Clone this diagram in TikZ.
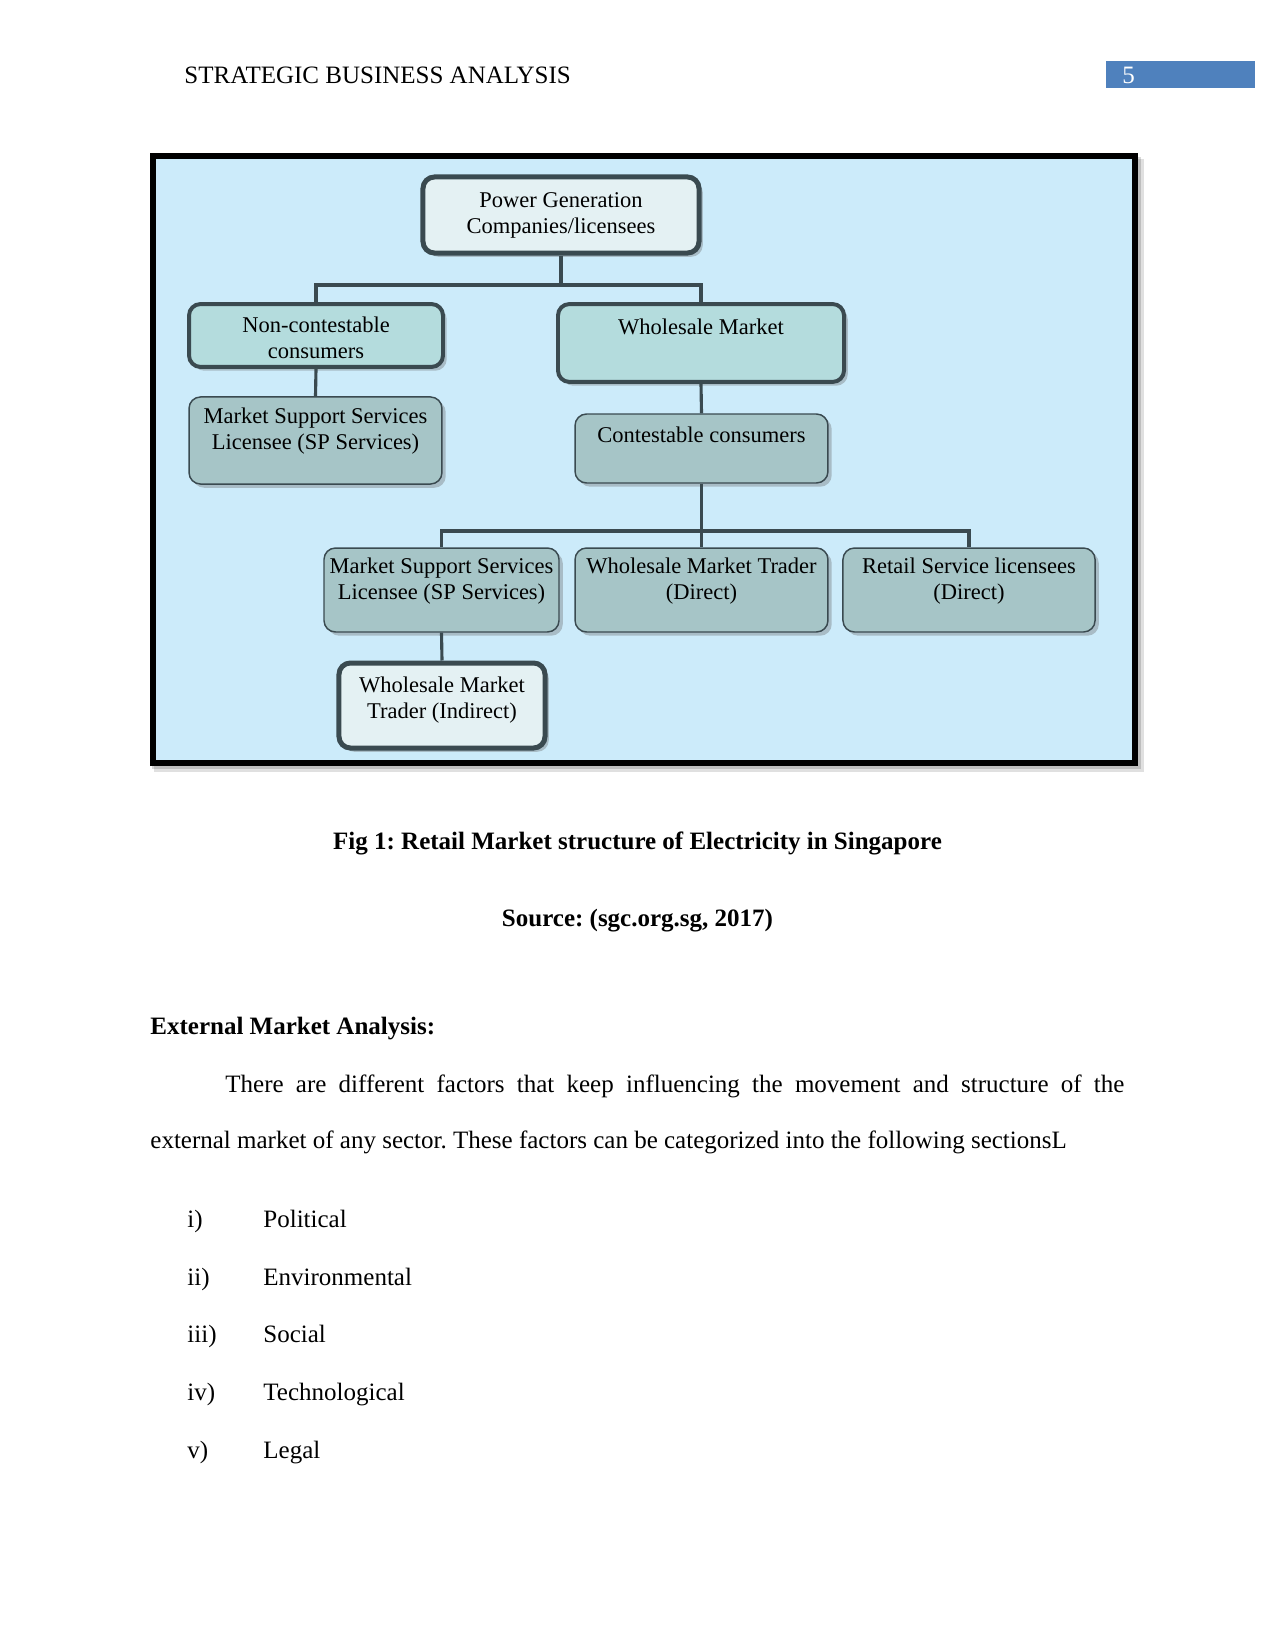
\documentclass[tikz,border=0pt]{standalone}
\usepackage{fontspec}
\setmainfont{Liberation Serif}
\usetikzlibrary{shadows}
\definecolor{bgblue}{RGB}{204,235,250}
\definecolor{lightbox}{RGB}{228,241,243}
\definecolor{tealbox}{RGB}{180,220,221}
\definecolor{graybox}{RGB}{166,197,199}
\definecolor{edgec}{RGB}{58,74,80}
\definecolor{hdrblue}{RGB}{79,129,189}
\frenchspacing
\begin{document}
\begin{tikzpicture}[x=0.48pt,y=-0.48pt,
  box/.style={rounded corners=5.5pt, draw=edgec, inner sep=0pt,
    drop shadow={shadow xshift=1.8pt, shadow yshift=-1.8pt, opacity=0.35, fill=black!60}},
  thickbox/.style={box, line width=2.4pt, fill=lightbox},
  midbox/.style={box, line width=1.9pt, fill=tealbox},
  thinbox/.style={box, line width=0.7pt, fill=graybox},
  lbl/.style={font=\fontsize{10.8}{12.5}\selectfont, align=center, inner sep=0pt},
  conn/.style={draw=edgec, line width=1.5pt},
  body/.style={font=\fontsize{12}{14}\selectfont, inner sep=0pt, anchor=base west},
  bodyc/.style={font=\fontsize{12}{14}\selectfont\bfseries, inner sep=0pt, anchor=base}]
\useasboundingbox[fill=white] (0,0) rectangle (1275,1650);

% header
\node[body] (hdr) at (184,84) {STRATEGIC BUSINESS ANALYSIS};
\fill[hdrblue] (1106,61) rectangle (1255,88);
\node[body, text=white] (pgno) at (1122,84) {5};

% frame
\fill[black, opacity=0.12] (154,159) rectangle (1144,772);
\fill[black, opacity=0.15] (152,157) rectangle (1141,769);
\draw[line width=2.88pt, fill=bgblue] (153,156) rectangle (1135,763);

% boxes
\node[thickbox, minimum width=132.5pt, minimum height=36.5pt] (pg) at (561,215) {};
\node[lbl] (pgt) at (561,215) {Power Generation\\Companies/licensees};

\node[midbox, minimum width=121.9pt, minimum height=30.2pt] (nc) at (316,335.5) {};
\node[lbl] (nct) at (316,338) {Non-contestable\\consumers};

\node[midbox, minimum width=137.3pt, minimum height=37.4pt] (wm) at (701,343) {};
\node[lbl] (wmt0) at (701,327) {Wholesale Market};

\node[thinbox, minimum width=121.4pt, minimum height=41.8pt] (msa) at (315.5,440.5) {};
\node[lbl] (msat) at (315.5,431) {Market Support Services\\Licensee (SP Services)};

\node[thinbox, minimum width=121.4pt, minimum height=33.1pt] (cc) at (701.5,448.5) {};
\node[lbl] (cct) at (701.5,435) {Contestable consumers};

\node[thinbox, minimum width=112.8pt, minimum height=40.3pt] (msb) at (441.5,590) {};
\node[lbl] (msbt) at (441.5,581.5) {Market Support Services\\Licensee (SP Services)};

\node[thinbox, minimum width=121.4pt, minimum height=40.3pt] (wmd) at (701.5,590) {};
\node[lbl] (wmdt) at (701.5,581.5) {Wholesale Market Trader\\(Direct)};

\node[thinbox, minimum width=121pt, minimum height=40.3pt] (rsl) at (969,590) {};
\node[lbl] (rslt) at (969,581.5) {Retail Service licensees\\(Direct)};

\node[thickbox, minimum width=98.9pt, minimum height=40.8pt] (wmi) at (442,705.5) {};
\node[lbl] (wmit) at (442,700.5) {Wholesale Market\\Trader (Indirect)};

% connectors
\coordinate (j1) at (561,285);
\coordinate (j2) at (701.5,531);
\draw[conn] (pg.south) -- (j1);
\draw[conn] (nc.north) |- (j1) -| (wm.north);
\draw[conn] (nc.south) -- (msa.north);
\draw[conn] (wm.south) -- (cc.north);
\draw[conn] (cc.south) -- (j2);
\draw[conn] (msb.north) |- (j2) -| (rsl.north);
\draw[conn] (j2) -- (wmd.north);
\draw[conn] (msb.south) -- (wmi.north);

% text below
\node[bodyc] (cap) at (637.5,849) {Fig 1: Retail Market structure of Electricity in Singapore};
\node[bodyc] (src) at (637.5,926.5) {Source: (sgc.org.sg, 2017)};
\node[body, font=\fontsize{12}{14}\selectfont\bfseries] (ema) at (150,1034) {External Market Analysis:};
\node[body] (p1) at (225,1092) {\makebox[431.5pt][s]{There are different factors that keep influencing the movement and structure of the}};
\node[body] (p2) at (150,1148) {external market of any sector. These factors can be categorized into the following sectionsL};

\node[body] (l1) at (187,1227) {i)};
\node[body] (i1) at (263,1227) {Political};
\node[body] (l2) at (187,1285) {ii)};
\node[body] (i2) at (263,1285) {Environmental};
\node[body] (l3) at (187,1342) {iii)};
\node[body] (i3) at (263,1342) {Social};
\node[body] (l4) at (187,1400) {iv)};
\node[body] (i4) at (263,1400) {Technological};
\node[body] (l5) at (187,1458) {v)};
\node[body] (i5) at (263,1458) {Legal};
\end{tikzpicture}
\end{document}
